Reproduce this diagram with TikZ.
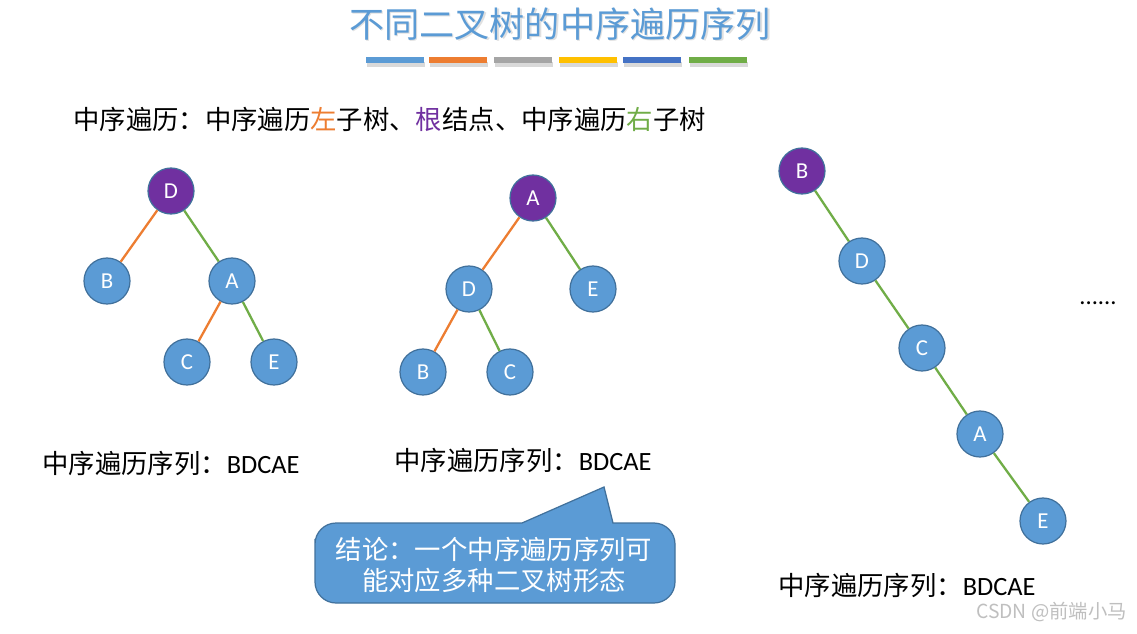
\documentclass[tikz,border=0pt]{standalone}
\usepackage{fontspec}
\setmainfont{Carlito}
\newfontfamily\cjk{Noto Sans CJK SC}
\definecolor{nodeblue}{HTML}{5B9BD5}
\definecolor{rimblue}{HTML}{41719C}
\definecolor{rootpurple}{HTML}{7030A0}
\definecolor{leftorange}{HTML}{ED7D31}
\definecolor{rightgreen}{HTML}{70AD47}
\definecolor{bargray}{HTML}{A5A5A5}
\definecolor{baryellow}{HTML}{FFC000}
\definecolor{bardarkblue}{HTML}{4472C4}
\tikzset{
  treenode/.style={circle,draw=rimblue,line width=0.7pt,fill=nodeblue,minimum size=0.92cm,inner sep=0pt,text=white,font=\fontsize{13}{13}\selectfont},
  rootnode/.style={treenode,fill=rootpurple},
  lft/.style={draw=leftorange,line width=1.3pt},
  rgt/.style={draw=rightgreen,line width=1.3pt},
  plain/.style={anchor=west,inner sep=0pt,font=\fontsize{15}{18}\selectfont},
  colorbar/.style={inner sep=0pt,minimum width=1.16cm,minimum height=0.13cm}
}
\begin{document}
\begin{tikzpicture}[x=0.02cm,y=-0.02cm]
			\useasboundingbox[fill=white] (0,0) rectangle (1137,633);
			% title and bars
			\node[text=black!12] (shade) at (561.5,25.5) {\fontsize{20}{24}\selectfont\cjk 不同二叉树的中序遍历序列};
			\node (title) at (560,24) {\fontsize{20}{24}\selectfont\cjk\color{nodeblue}不同二叉树的中序遍历序列};
			\fill[black!15] (367,62) rectangle (425,67);
			\fill[black!15] (430,62) rectangle (488,67);
			\fill[black!15] (495,62) rectangle (553,67);
			\fill[black!15] (560,62) rectangle (618,67);
			\fill[black!15] (624,62) rectangle (682,67);
			\fill[black!15] (690,62) rectangle (748,67);
			\node[colorbar,fill=nodeblue] (bar1) at (395,60) {};
			\node[colorbar,fill=leftorange] (bar2) at (458,60) {};
			\node[colorbar,fill=bargray] (bar3) at (523,60) {};
			\node[colorbar,fill=baryellow] (bar4) at (588,60) {};
			\node[colorbar,fill=bardarkblue] (bar5) at (652,60) {};
			\node[colorbar,fill=rightgreen] (bar6) at (718,60) {};
			\node[plain] (rule) at (73,119) {\cjk 中序遍历：中序遍历{\color{leftorange}左}子树、{\color{rootpurple}根}结点、中序遍历{\color{rightgreen}右}子树};
			% tree one
			\node[rootnode] (t1d) at (171,191) {D};
			\node[treenode] (t1b) at (107,281) {B};
			\node[treenode] (t1a) at (232,281) {A};
			\node[treenode] (t1c) at (187,362) {C};
			\node[treenode] (t1e) at (274,362) {E};
			\draw[lft] (t1d) -- (t1b);
			\draw[rgt] (t1d) -- (t1a);
			\draw[lft] (t1a) -- (t1c);
			\draw[rgt] (t1a) -- (t1e);
			\node[plain] (seq1) at (42,463) {{\cjk 中序遍历序列：}BDCAE};
			% tree two
			\node[rootnode] (t2a) at (533,198) {A};
			\node[treenode] (t2d) at (469,289) {D};
			\node[treenode] (t2e) at (593,289) {E};
			\node[treenode] (t2b) at (423,372) {B};
			\node[treenode] (t2c) at (510,372) {C};
			\draw[lft] (t2a) -- (t2d);
			\draw[rgt] (t2a) -- (t2e);
			\draw[lft] (t2d) -- (t2b);
			\draw[rgt] (t2d) -- (t2c);
			\node[plain] (seq2) at (394,460) {{\cjk 中序遍历序列：}BDCAE};
			% tree three
			\node[rootnode] (t3b) at (802,171) {B};
			\node[treenode] (t3d) at (862,261) {D};
			\node[treenode] (t3c) at (922,348) {C};
			\node[treenode] (t3a) at (980,434) {A};
			\node[treenode] (t3e) at (1043,521) {E};
			\draw[rgt] (t3b) -- (t3d);
			\draw[rgt] (t3d) -- (t3c);
			\draw[rgt] (t3c) -- (t3a);
			\draw[rgt] (t3a) -- (t3e);
			\node[plain] (seq3) at (778,585) {{\cjk 中序遍历序列：}BDCAE};
			\node (more) at (1098,303) {\fontsize{14}{14}\selectfont ......};
			% callout
			\coordinate (tip) at (604,487);
			\draw[draw=rimblue,fill=nodeblue,line width=0.7pt,rounded corners=12] (315,560) -- (315,523) -- (500,523) [sharp corners] -- (522,523) -- (tip) -- (613,523) -- (640,523) [rounded corners=12] -- (675,523) -- (675,603) -- (315,603) -- cycle;
			\node[align=center,text=white,font=\fontsize{15}{17.6}\selectfont\cjk] (concl) at (494,565) {结论：一个中序遍历序列可\\能对应多种二叉树形态};
			\node[anchor=east,text=black!25,font=\fontsize{11}{12}\selectfont\cjk] (mark) at (1133,612) {CSDN @前端小马};
		\end{tikzpicture}
\end{document}
